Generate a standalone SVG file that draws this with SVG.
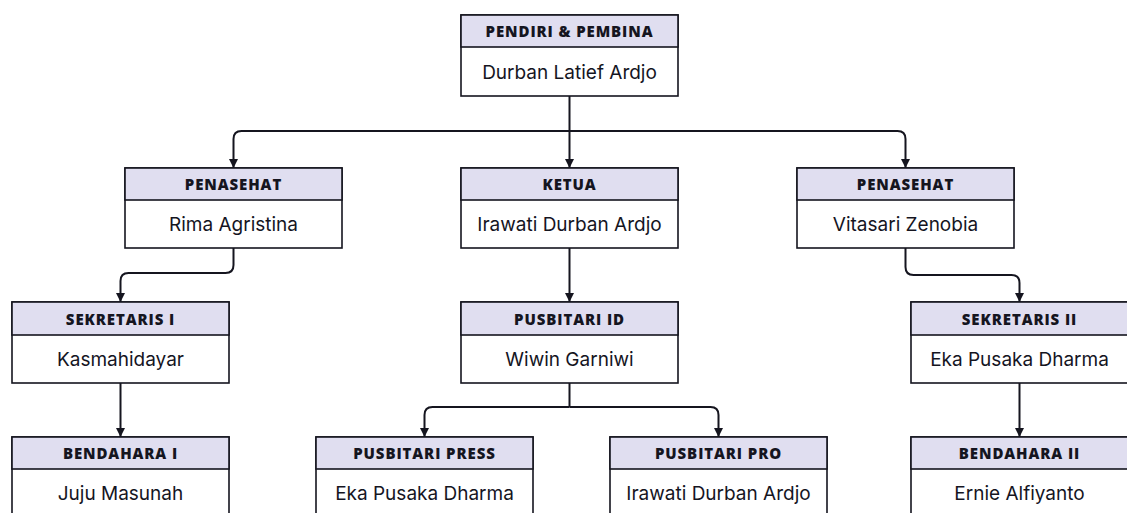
<svg xmlns="http://www.w3.org/2000/svg" width="1127" height="513" viewBox="0 0 1127 513">
<defs>
<style>
.box{fill:#ffffff;stroke:#15151f;stroke-width:1.6}
.hdr{fill:#e0def0;stroke:#15151f;stroke-width:1.6}
.ht{font-family:"Open Sans","DejaVu Sans",sans-serif;font-weight:800;font-size:15px;fill:#15151f;text-anchor:middle;dominant-baseline:central;letter-spacing:0.9px}
.nt{font-family:Inter,"Liberation Sans",sans-serif;font-size:19px;fill:#15151f;text-anchor:middle;dominant-baseline:central}
.cn{fill:none;stroke:#15151f;stroke-width:2;marker-end:url(#ah)}
.cn2{fill:none;stroke:#15151f;stroke-width:2}
</style>
<marker id="ah" viewBox="0 0 10 10" refX="10" refY="5" markerWidth="4.5" markerHeight="4.5" orient="auto" markerUnits="strokeWidth">
<path d="M0,0 L10,5 L0,10 Z" fill="#15151f"/>
</marker>
</defs>
<rect width="1127" height="513" fill="#ffffff"/>
<g id="connectors">
<path class="cn" d="M569.5,96 V168"/>
<path class="cn" d="M569.5,131 H241.5 Q233.5,131 233.5,139 V168"/>
<path class="cn" d="M569.5,131 H897.5 Q905.5,131 905.5,139 V168"/>
<path class="cn" d="M233.5,248 V265 Q233.5,273 225.5,273 H128.5 Q120.5,273 120.5,281 V302"/>
<path class="cn" d="M569.5,248 V302"/>
<path class="cn" d="M905.5,248 V267 Q905.5,275 913.5,275 H1011.5 Q1019.5,275 1019.5,283 V302"/>
<path class="cn" d="M120.5,383 V437"/>
<path class="cn" d="M1019.5,383 V437"/>
<path class="cn2" d="M569.5,383 V407"/>
<path class="cn" d="M569.5,407 H432.5 Q424.5,407 424.5,415 V437"/>
<path class="cn" d="M569.5,407 H710.5 Q718.5,407 718.5,415 V437"/>
</g>
<g id="pendiri">
<rect class="box" x="461" y="15" width="217" height="81"/>
<rect class="hdr" x="461" y="15" width="217" height="32"/>
<text class="ht" x="569.5" y="31">PENDIRI &amp; PEMBINA</text>
<text class="nt" x="569.5" y="72">Durban Latief Ardjo</text>
</g>
<g id="penasehat1">
<rect class="box" x="125" y="168" width="217" height="80"/>
<rect class="hdr" x="125" y="168" width="217" height="32"/>
<text class="ht" x="233.5" y="184">PENASEHAT</text>
<text class="nt" x="233.5" y="224">Rima Agristina</text>
</g>
<g id="ketua">
<rect class="box" x="461" y="168" width="217" height="80"/>
<rect class="hdr" x="461" y="168" width="217" height="32"/>
<text class="ht" x="569.5" y="184">KETUA</text>
<text class="nt" x="569.5" y="224">Irawati Durban Ardjo</text>
</g>
<g id="penasehat2">
<rect class="box" x="797" y="168" width="217" height="80"/>
<rect class="hdr" x="797" y="168" width="217" height="32"/>
<text class="ht" x="905.5" y="184">PENASEHAT</text>
<text class="nt" x="905.5" y="224">Vitasari Zenobia</text>
</g>
<g id="sekretaris1">
<rect class="box" x="12" y="302" width="217" height="81"/>
<rect class="hdr" x="12" y="302" width="217" height="33"/>
<text class="ht" x="120.5" y="318.5">SEKRETARIS I</text>
<text class="nt" x="120.5" y="359">Kasmahidayar</text>
</g>
<g id="pusbitari-id">
<rect class="box" x="461" y="302" width="217" height="81"/>
<rect class="hdr" x="461" y="302" width="217" height="33"/>
<text class="ht" x="569.5" y="318.5">PUSBITARI ID</text>
<text class="nt" x="569.5" y="359">Wiwin Garniwi</text>
</g>
<g id="sekretaris2">
<rect class="box" x="911" y="302" width="217" height="81"/>
<rect class="hdr" x="911" y="302" width="217" height="33"/>
<text class="ht" x="1019.5" y="318.5">SEKRETARIS II</text>
<text class="nt" x="1019.5" y="359">Eka Pusaka Dharma</text>
</g>
<g id="bendahara1">
<rect class="box" x="12" y="437" width="217" height="90"/>
<rect class="hdr" x="12" y="437" width="217" height="32"/>
<text class="ht" x="120.5" y="453">BENDAHARA I</text>
<text class="nt" x="120.5" y="493">Juju Masunah</text>
</g>
<g id="pusbitari-press">
<rect class="box" x="316" y="437" width="217" height="90"/>
<rect class="hdr" x="316" y="437" width="217" height="32"/>
<text class="ht" x="424.5" y="453">PUSBITARI PRESS</text>
<text class="nt" x="424.5" y="493">Eka Pusaka Dharma</text>
</g>
<g id="pusbitari-pro">
<rect class="box" x="610" y="437" width="217" height="90"/>
<rect class="hdr" x="610" y="437" width="217" height="32"/>
<text class="ht" x="718.5" y="453">PUSBITARI PRO</text>
<text class="nt" x="718.5" y="493">Irawati Durban Ardjo</text>
</g>
<g id="bendahara2">
<rect class="box" x="911" y="437" width="217" height="90"/>
<rect class="hdr" x="911" y="437" width="217" height="32"/>
<text class="ht" x="1019.5" y="453">BENDAHARA II</text>
<text class="nt" x="1019.5" y="493">Ernie Alfiyanto</text>
</g>
</svg>
